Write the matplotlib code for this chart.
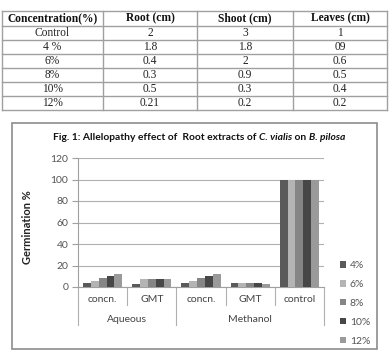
import matplotlib
matplotlib.use("Agg")
import matplotlib.pyplot as plt
import numpy as np
from matplotlib.lines import Line2D
from matplotlib.patches import Rectangle, Patch

# ---------------- data ----------------
table_header = ["Concentration(%)", "Root (cm)", "Shoot (cm)", "Leaves (cm)"]
table_conc = ["Control", "4 %", "6%", "8%", "10%", "12%"]
table_root = ["2", "1.8", "0.4", "0.3", "0.5", "0.21"]
table_shoot = ["3", "1.8", "2", "0.9", "0.3", "0.2"]
table_leaves = ["1", "09", "0.6", "0.5", "0.4", "0.2"]

categories = ["concn.", "GMT", "concn.", "GMT", "control"]
groups = ["Aqueous", "Methanol"]
series = ["4%", "6%", "8%", "10%", "12%"]
values = {
    "4%":  [4, 3, 4, 4, 100],
    "6%":  [6, 7, 6, 4, 100],
    "8%":  [8, 7, 8, 4, 100],
    "10%": [10, 7, 10, 4, 100],
    "12%": [12, 7, 12, 3, 100],
}
yticks = [0, 20, 40, 60, 80, 100, 120]
colors = ["#5a5a5a", "#b4b4b4", "#858585", "#474747", "#9a9a9a"]

W, H = 389, 353
fig = plt.figure(figsize=(W / 100, H / 100), dpi=100)
fig.patch.set_facecolor("white")

def fx(px):
    return px / W

def fy(py):
    return 1 - py / H

# ---------------- table ----------------
col_edges = [2, 103, 197, 293, 387]
row_edges = [11, 25.5] + [25.5 + 14 * (k + 1) for k in range(6)]
lc = "#a0a0a0"
for x in col_edges:
    fig.add_artist(Line2D([fx(x), fx(x)], [fy(row_edges[0]), fy(row_edges[-1])],
                          color=lc, lw=1.0))
for y in row_edges:
    fig.add_artist(Line2D([fx(col_edges[0]), fx(col_edges[-1])], [fy(y), fy(y)],
                          color=lc, lw=1.0))

serif = "Liberation Serif"
for j, h in enumerate(table_header):
    cx = (col_edges[j] + col_edges[j + 1]) / 2
    cy = (row_edges[0] + row_edges[1]) / 2
    fig.text(fx(cx), fy(cy), h, ha="center", va="center", family=serif,
             fontweight="bold", fontsize=8.3, color="#111111")
cols = [table_conc, table_root, table_shoot, table_leaves]
for j, col in enumerate(cols):
    cx = (col_edges[j] + col_edges[j + 1]) / 2
    for i, v in enumerate(col):
        cy = (row_edges[i + 1] + row_edges[i + 2]) / 2
        fig.text(fx(cx), fy(cy), v, ha="center", va="center", family=serif,
                 fontsize=8.3, color="#222222")

# ---------------- chart box ----------------
fig.add_artist(Rectangle((fx(12), fy(349)), fx(377) - fx(12), fy(123) - fy(349),
                         fill=False, edgecolor="#8c8c8c", lw=1.2))

sans = "Lato"
ax = fig.add_axes([fx(78), fy(287), fx(324) - fx(78), fy(158) - fy(287)])
x = np.arange(len(categories))
bw = 0.16
for k, s in enumerate(series):
    ax.bar(x - 0.4 + bw * (k + 0.5), values[s], width=bw, color=colors[k],
           label=s, zorder=3)

ax.set_xlim(-0.5, len(categories) - 0.5)
ax.set_ylim(0, 120)
ax.set_yticks(yticks)
ax.set_yticklabels([str(t) for t in yticks], family=sans, fontsize=7.5, color="#555555")
ax.yaxis.grid(True, color="#b0b0b0", lw=0.8, zorder=0)
ax.tick_params(axis="y", length=4, color="#a0a0a0", pad=3)
ax.set_xticks([])
for sp in ["top", "right"]:
    ax.spines[sp].set_visible(False)
ax.spines["left"].set_color("#a0a0a0")
ax.spines["bottom"].set_color("#a0a0a0")

trans = ax.get_xaxis_transform()
ah = 129.0
for i, c in enumerate(categories):
    ax.text(i, -13 / ah, c, transform=trans, ha="center", va="center",
            family=sans, fontsize=7.5, color="#444444")
# separators
short_b = [0.5, 2.5, 3.5]
long_b = [-0.5, 1.5, 4.5]
for b in short_b:
    ax.plot([b, b], [0, -18 / ah], transform=trans, color="#b0b0b0", lw=0.8, clip_on=False)
for b in long_b:
    ax.plot([b, b], [0, -38 / ah], transform=trans, color="#b0b0b0", lw=0.8, clip_on=False)
group_centers = [0.5, 3.0]
for g, gc in zip(groups, group_centers):
    ax.text(gc, -32 / ah, g, transform=trans, ha="center", va="center",
            family=sans, fontsize=7.5, color="#444444")

# y label
fig.text(fx(28), fy(227), "Germination %", rotation=90, ha="center", va="center",
         family=sans, fontweight="bold", fontsize=8.0, color="#222222")

# title (mixed italics)
title_parts = [("Fig. 1: Allelopathy effect of  Root extracts of ", "normal"),
               ("C. vialis", "italic"), (" on ", "normal"), ("B. pilosa", "italic")]
renderer = fig.canvas.get_renderer()
tmp = []
total = 0
for txt, st in title_parts:
    t = fig.text(0, 0, txt, family=sans, fontweight="bold", style=st, fontsize=7.4,
                 color="#111111", va="center", ha="left")
    bb = t.get_window_extent(renderer=renderer)
    tmp.append((t, bb.width))
    total += bb.width
start = 199 - total / 2
cur = start
for t, w in tmp:
    t.set_position((fx(cur), fy(138)))
    cur += w

# legend
handles = [Patch(facecolor=colors[k], edgecolor="none") for k in range(len(series))]
leg = fig.legend(handles, series, loc="upper left",
                 bbox_to_anchor=(fx(340), fy(261)), frameon=False,
                 prop={"family": sans, "size": 7.5}, handlelength=0.6,
                 handleheight=0.6, handletextpad=0.35, labelspacing=0.95,
                 borderaxespad=0, borderpad=0)
for t in leg.get_texts():
    t.set_color("#555555")

fig.savefig("out.png", dpi=100, facecolor="white")
